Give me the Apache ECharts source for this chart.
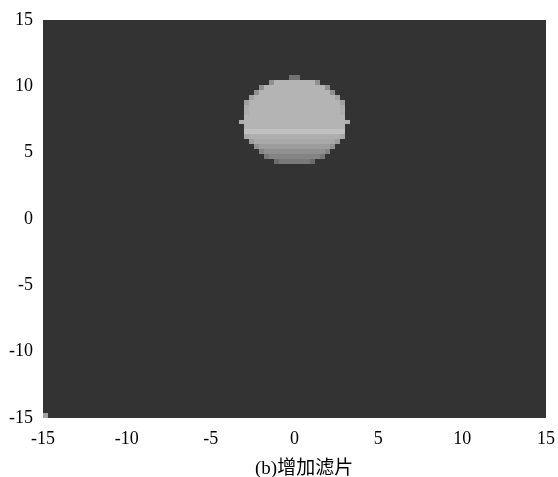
<!DOCTYPE html>
<html>
<head>
<meta charset="utf-8">
<script src="https://cdn.jsdelivr.net/npm/echarts@6/dist/echarts.min.js"></script>
<style>
html, body { margin: 0; padding: 0; background: #fff; }
#main { width: 558px; height: 477px; }
</style>
</head>
<body>
<div id="main"></div>
<script>
// 坐标刻度
var xTicks = [-15, -10, -5, 0, 5, 10, 15];
var yTicks = [-15, -10, -5, 0, 5, 10, 15];
var caption = '(b)增加滤片';

// 像素网格 (100 x 80)
var cellW = 0.3, cellH = 0.375;
var bgGray = 0x33;

// 光斑灰度, 每个字符一个像素, 36进制 k -> 灰度 k*6, '.' 为背景
var blobCol0 = 39;   // 最左列
var blobRow0 = 68;   // 最上行
var blobRows = [
  '..........jj..........',
  '......ouuuuuuuuo......',
  '....ouuuuuuuuuuuuo....',
  '...ouuuuuuuuuuuuuuo...',
  '..ruuuuuuuuuuuuuuuur..',
  '.ruuuuuuuuuuuuuuuuuur.',
  '.tuuuuuuuuuuuuuuuuuut.',
  '.tuuuuuuuuuuuuuuuuuut.',
  '.uuuuuuuuuuuuuuuuuuuu.',
  'tuuuuuuuuuuuuuuuuuuuut',
  '.uuuuuuuuuuuuuuuuuuuu.',
  '.wwwwwwwwwwwwwwwwwwww.',
  '.stttttttttttttttttts.',
  '..qssssssssssssssssq..',
  '...oqqqqqqqqqqqqqqo...',
  '....moooooooooooom....',
  '.....kmmmmmmmmmmk.....',
  '.......ikkkkkki.......'
];
// 其它单独像素 [列, 行, 灰度]
var extraCells = [[0, 0, 'r']];

var cells = [];
blobRows.forEach(function (row, r) {
  for (var c = 0; c < row.length; c++) {
    var ch = row.charAt(c);
    if (ch === '.') continue;
    cells.push([-15 + (blobCol0 + c) * cellW, -15 + (blobRow0 - r) * cellH, parseInt(ch, 36) * 6]);
  }
});
extraCells.forEach(function (e) {
  cells.push([-15 + e[0] * cellW, -15 + e[1] * cellH, parseInt(e[2], 36) * 6]);
});

var fontFam = "'Liberation Serif', 'Noto Sans CJK SC', serif";

var chart = echarts.init(document.getElementById('main'));
chart.setOption({
  animation: false,
  title: {
    text: caption,
    left: 250,
    top: 455,
    textStyle: { fontFamily: fontFam, fontSize: 19, fontWeight: 'normal', color: '#000' }
  },
  grid: {
    left: 43, right: 8, top: 20, bottom: 59,
    show: true,
    backgroundColor: 'rgb(' + bgGray + ',' + bgGray + ',' + bgGray + ')',
    borderWidth: 0
  },
  xAxis: {
    type: 'value',
    min: xTicks[0], max: xTicks[xTicks.length - 1], interval: 5,
    axisLine: { show: false },
    axisTick: { show: false },
    splitLine: { show: false },
    axisLabel: { color: '#000', fontFamily: fontFam, fontSize: 18, margin: 12 }
  },
  yAxis: {
    type: 'value',
    min: yTicks[0], max: yTicks[yTicks.length - 1], interval: 5,
    axisLine: { show: false },
    axisTick: { show: false },
    splitLine: { show: false },
    axisLabel: { color: '#000', fontFamily: fontFam, fontSize: 18, margin: 10, padding: [0, 0, 12, 0] }
  },
  series: [{
    type: 'custom',
    data: cells,
    encode: { x: 0, y: 1 },
    renderItem: function (params, api) {
      var x = api.value(0), y = api.value(1), g = api.value(2);
      var a = api.coord([x, y + cellH]);
      var b = api.coord([x + cellW, y]);
      var x0 = Math.round(a[0]), y0 = Math.round(a[1]);
      return {
        type: 'rect',
        shape: { x: x0, y: y0, width: Math.round(b[0]) - x0, height: Math.round(b[1]) - y0 },
        style: { fill: 'rgb(' + g + ',' + g + ',' + g + ')' }
      };
    }
  }]
});
</script>
</body>
</html>
